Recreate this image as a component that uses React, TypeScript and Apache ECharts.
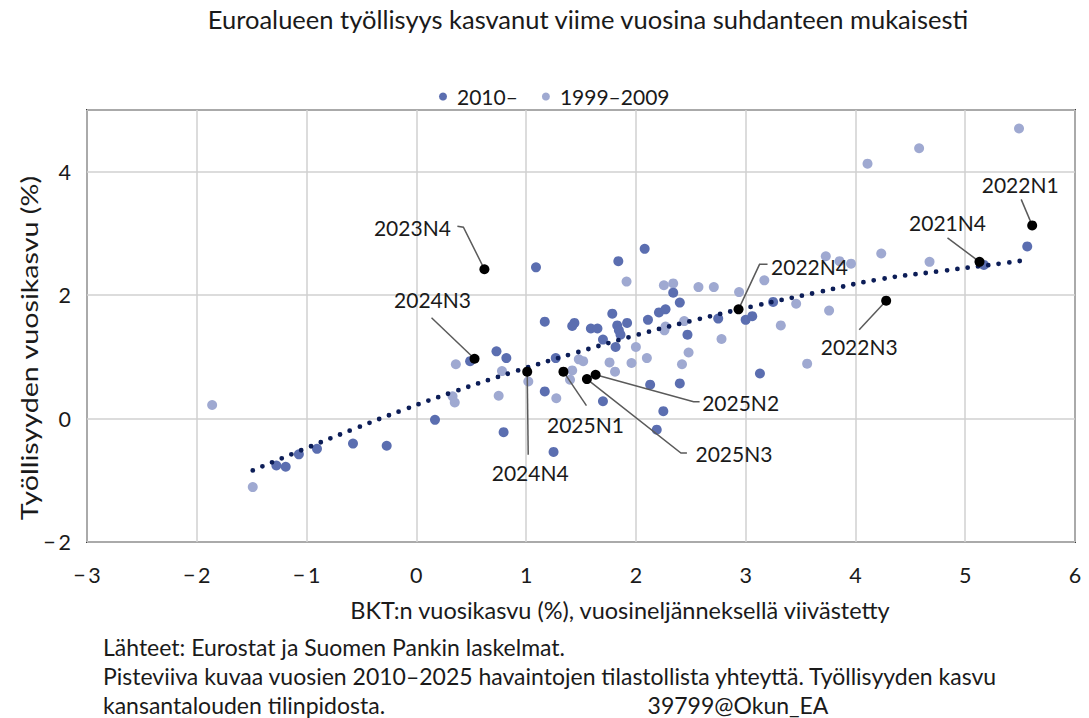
import React, { useEffect, useRef } from 'react';
import * as echarts from 'echarts';

// 2010– observations (x: GDP growth lagged one quarter, y: employment growth)
const recentX = [-1.275, -1.19, -1.07, -0.905, -0.577, -0.27, 0.17, 0.49, 0.73, 0.82, 0.795, 1.09, 1.17, 1.17, 1.25, 1.27, 1.44, 1.42, 1.59, 1.65, 1.70, 1.70, 1.785, 1.815, 1.84, 1.83, 1.845, 1.86, 1.92, 2.08, 2.11, 2.13, 2.19, 2.21, 2.27, 2.25, 2.34, 2.40, 2.40, 2.47, 2.75, 3.0, 3.06, 3.13, 3.25, 5.565, 5.17];
const recentY = [-0.76, -0.78, -0.58, -0.49, -0.405, -0.44, -0.02, 0.93, 1.09, 0.98, -0.22, 2.45, 1.57, 0.44, -0.54, 0.98, 1.55, 1.50, 1.46, 1.46, 1.28, 0.28, 1.70, 1.16, 2.55, 1.51, 1.43, 1.36, 1.55, 2.75, 1.60, 0.55, -0.18, 1.72, 1.77, 0.12, 2.04, 1.88, 0.57, 1.36, 1.62, 1.60, 1.66, 0.73, 1.89, 2.79, 2.49];

// 1999–2009 observations
const earlyX = [-1.86, -1.49, 0.33, 0.35, 0.36, 0.75, 0.78, 1.02, 1.275, 1.40, 1.42, 1.48, 1.52, 1.76, 1.81, 1.915, 1.96, 2.0, 2.10, 2.255, 2.34, 2.27, 2.26, 2.44, 2.42, 2.48, 2.57, 2.71, 2.78, 2.94, 3.17, 3.32, 3.46, 3.56, 3.73, 3.76, 3.855, 3.96, 4.11, 4.235, 4.58, 4.675, 5.49];
const earlyY = [0.22, -1.11, 0.36, 0.26, 0.88, 0.37, 0.77, 0.60, 0.33, 0.63, 0.78, 0.96, 0.93, 0.91, 0.76, 2.22, 0.90, 1.16, 0.98, 2.16, 2.19, 1.49, 1.43, 1.58, 0.88, 1.07, 2.13, 2.13, 1.29, 2.05, 2.24, 1.51, 1.86, 0.89, 2.63, 1.75, 2.55, 2.51, 4.13, 2.675, 4.38, 2.54, 4.70];

// Highlighted quarters
const hlNames = ['2021N4', '2022N1', '2022N3', '2022N4', '2023N4', '2024N3', '2024N4', '2025N1', '2025N2', '2025N3'];
const hlX = [5.13, 5.61, 4.28, 2.935, 0.62, 0.53, 1.01, 1.34, 1.633, 1.554];
const hlY = [2.54, 3.13, 1.91, 1.77, 2.42, 0.97, 0.76, 0.76, 0.71, 0.64];

// Dotted trend line
const trendX = [-1.49, -1.03, -0.57, -0.12, 0.35, 0.91, 1.46, 2.02, 2.50, 3.07, 3.64, 4.20, 4.78, 5.36, 5.56];
const trendY = [-0.84, -0.50, -0.17, 0.14, 0.44, 0.77, 1.07, 1.36, 1.58, 1.82, 2.04, 2.25, 2.39, 2.52, 2.57];

// Axis ticks
const xTicks = { min: -3, max: 6, step: 1 };
const yTicks = { min: -2, max: 5, step: 2 };

// Label placement (pixel offsets from the point) — styling only
const labelLayout: Record<string, { t: [number, number]; l: [number, number][] }> = {
  '2021N4': { t: [-32, -39], l: [[-32, -24], [0, 0]] },
  '2022N1': { t: [-12, -41], l: [[-11, -26], [0, 0]] },
  '2022N3': { t: [-27, 46], l: [[-27, 29], [0, 0]] },
  '2022N4': { t: [71, -43], l: [[29, -45], [21, -45], [0, 0]] },
  '2023N4': { t: [-72, -42], l: [[-27, -43], [-21, -42], [0, 0]] },
  '2024N3': { t: [-42, -59], l: [[-43, -41], [0, 0]] },
  '2024N4': { t: [3, 101], l: [[1, 83], [0, 0]] },
  '2025N1': { t: [22, 53], l: [[23, 34], [0, 0]] },
  '2025N2': { t: [145, 28], l: [[104, 27], [98, 27], [0, 0]] },
  '2025N3': { t: [147, 74], l: [[100, 74], [94, 74], [0, 0]] },
};

const FONT = 'Lato, "Open Sans", sans-serif';
const TXT = '#1a1a1a';
const DARK = '#5b6eb0';
const LIGHT = '#9fa9d1';

const fmtNum = (v: number) => (v < 0 ? '\u2212\u2009' + Math.abs(v) : String(v));

export default function App() {
  const ref = useRef<HTMLDivElement>(null);
  useEffect(() => {
    const chart = echarts.init(ref.current!, null, { renderer: 'svg' });
    chart.setOption({
      animation: false,
      backgroundColor: '#ffffff',
      grid: {
        left: 87, right: 14, top: 110, bottom: 176,
        show: true, borderColor: '#3a3a3a', borderWidth: 2, backgroundColor: 'transparent',
      },
      legend: {
        left: 434, top: 81,
        data: ['2010–', '1999–2009'],
        icon: 'circle', itemWidth: 8, itemHeight: 8, itemGap: 24,
        textStyle: { fontFamily: FONT, fontSize: 21, color: TXT, padding: [0, 0, 0, 5] },
      },
      xAxis: {
        type: 'value', min: xTicks.min, max: xTicks.max, interval: xTicks.step,
        axisLine: { show: false }, axisTick: { show: false },
        splitLine: { show: true, lineStyle: { color: '#d0d0d0', width: 1.5 } },
        axisLabel: { fontFamily: FONT, fontSize: 21.5, color: TXT, margin: 22, formatter: fmtNum },
      },
      yAxis: {
        type: 'value', min: yTicks.min, max: yTicks.max, interval: yTicks.step,
        axisLine: { show: false }, axisTick: { show: false },
        splitLine: { show: true, lineStyle: { color: '#d0d0d0', width: 1.5 } },
        axisLabel: {
          fontFamily: FONT, fontSize: 21.5, color: TXT, margin: 16,
          formatter: (v: number) => (v === 5 ? '' : fmtNum(v)),
        },
      },
      series: [
        {
          name: '1999–2009', type: 'scatter', symbolSize: 10, z: 2,
          itemStyle: { color: LIGHT, opacity: 1 },
          data: earlyX.map((x, i) => [x, earlyY[i]]),
        },
        {
          name: '2010–', type: 'scatter', symbolSize: 10, z: 3,
          itemStyle: { color: DARK, opacity: 1 },
          data: recentX.map((x, i) => [x, recentY[i]]),
        },
        {
          name: 'trend', type: 'line', smooth: true, showSymbol: false, symbol: 'none', z: 4,
          lineStyle: { color: '#0c1d57', width: 4.8, type: [0, 10.5], cap: 'round' },
          data: trendX.map((x, i) => [x, trendY[i]]),
        },
        {
          name: 'highlight', type: 'scatter', symbolSize: 10, z: 10,
          itemStyle: { color: '#000000', opacity: 1 },
          data: hlX.map((x, i) => [x, hlY[i]]),
        },
      ],
    });

    const gfx: any[] = [
      {
        type: 'text', x: 588, y: 19, z: 20,
        style: { text: 'Euroalueen työllisyys kasvanut viime vuosina suhdanteen mukaisesti', fontFamily: FONT, fontSize: 25.5, fill: TXT, align: 'center', verticalAlign: 'middle' },
      },
      {
        type: 'text', x: 29, y: 348, rotation: Math.PI / 2, scaleX: 1.22, z: 20,
        style: { text: 'Työllisyyden vuosikasvu (%)', fontFamily: FONT, fontSize: 23.5, fill: TXT, align: 'center', verticalAlign: 'middle' },
      },
      {
        type: 'text', x: 620, y: 610, z: 20,
        style: { text: 'BKT:n vuosikasvu (%), vuosineljänneksellä viivästetty', fontFamily: FONT, fontSize: 23.5, fill: TXT, align: 'center', verticalAlign: 'middle' },
      },
      {
        type: 'text', x: 103, y: 647, z: 20,
        style: { text: 'Lähteet: Eurostat ja Suomen Pankin laskelmat.', fontFamily: FONT, fontSize: 23, fill: TXT, align: 'left', verticalAlign: 'middle' },
      },
      {
        type: 'text', x: 103, y: 676, z: 20,
        style: { text: 'Pisteviiva kuvaa vuosien 2010–2025 havaintojen tilastollista yhteyttä. Työllisyyden kasvu', fontFamily: FONT, fontSize: 23, fill: TXT, align: 'left', verticalAlign: 'middle' },
      },
      {
        type: 'text', x: 103, y: 705, z: 20,
        style: { text: 'kansantalouden tilinpidosta.', fontFamily: FONT, fontSize: 23, fill: TXT, align: 'left', verticalAlign: 'middle' },
      },
      {
        type: 'text', x: 738, y: 705, z: 20,
        style: { text: '39799@Okun_EA', fontFamily: FONT, fontSize: 23, fill: TXT, align: 'center', verticalAlign: 'middle' },
      },
    ];

    hlNames.forEach((name, i) => {
      const p = chart.convertToPixel({ gridIndex: 0 }, [hlX[i], hlY[i]]) as number[];
      const lay = labelLayout[name];
      gfx.push({
        type: 'polyline', z: 5,
        shape: { points: lay.l.map(([dx, dy]) => [p[0] + dx, p[1] + dy]) },
        style: { stroke: '#5a5a5a', lineWidth: 1.5, fill: null },
      });
      gfx.push({
        type: 'text', z: 20, x: p[0] + lay.t[0], y: p[1] + lay.t[1],
        style: { text: name, fontFamily: FONT, fontSize: 21, fill: TXT, align: 'center', verticalAlign: 'middle' },
      });
    });

    chart.setOption({ graphic: gfx });
    return () => chart.dispose();
  }, []);
  return <div ref={ref} style={{ position: 'absolute', left: 0, top: 0, width: 1089, height: 718 }} />;
}
